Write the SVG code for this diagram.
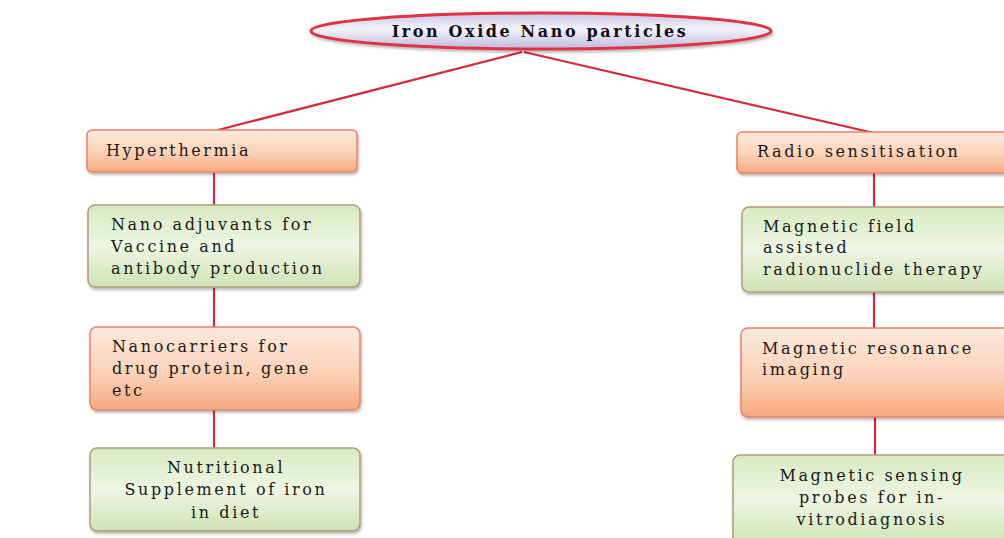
<svg xmlns="http://www.w3.org/2000/svg" width="1004" height="538" viewBox="0 0 1004 538">
<defs>
<linearGradient id="gOr" x1="0" y1="0" x2="0" y2="1">
<stop offset="0" stop-color="#fde9dd"/>
<stop offset="0.55" stop-color="#fbd2b8"/>
<stop offset="1" stop-color="#f7a87e"/>
</linearGradient>
<linearGradient id="gGr" x1="0" y1="0" x2="0" y2="1">
<stop offset="0" stop-color="#d7ebc0"/>
<stop offset="0.5" stop-color="#eef6e4"/>
<stop offset="1" stop-color="#cfe3b4"/>
</linearGradient>
<linearGradient id="gEl" x1="0" y1="0" x2="0" y2="1">
<stop offset="0" stop-color="#c9c6e6"/>
<stop offset="0.45" stop-color="#f4f3fb"/>
<stop offset="1" stop-color="#bdb9dd"/>
</linearGradient>
<filter id="sh" x="-10%" y="-10%" width="120%" height="130%">
<feDropShadow dx="1" dy="2" stdDeviation="1.5" flood-color="#000" flood-opacity="0.3"/>
</filter>
</defs>
<style>
.or{fill:url(#gOr);stroke:#e8826a;stroke-width:1.5;filter:url(#sh)}
.gr{fill:url(#gGr);stroke:#b39a7e;stroke-width:1.5;filter:url(#sh)}
.t{font-family:"DejaVu Serif",serif;font-size:16px;fill:#1a1a1a;letter-spacing:2.6px}
.c{text-anchor:middle}
.ln{stroke:#d42a3e;stroke-width:2.2;fill:none}
</style>
<rect width="1004" height="538" fill="#ffffff"/>
<g id="connectors">
<line class="ln" x1="522" y1="52" x2="214" y2="131"/>
<line class="ln" x1="524" y1="52" x2="874" y2="133"/>
<line class="ln" x1="214" y1="173" x2="214" y2="206"/>
<line class="ln" x1="214" y1="288" x2="214" y2="327"/>
<line class="ln" x1="214" y1="410" x2="214" y2="448"/>
<line class="ln" x1="874" y1="173" x2="874" y2="207"/>
<line class="ln" x1="874" y1="292" x2="874" y2="328"/>
<line class="ln" x1="875" y1="417" x2="875" y2="455"/>
</g>
<g id="root">
<ellipse cx="541" cy="31" rx="230" ry="18" fill="url(#gEl)" stroke="#e0323f" stroke-width="3" filter="url(#sh)"/>
<text x="540" y="37" class="c" style="font-family:'DejaVu Serif',serif;font-size:16px;font-weight:bold;fill:#111;letter-spacing:2.6px">Iron Oxide Nano particles</text>
</g>
<g id="hyperthermia">
<rect class="or" x="87" y="130" width="270" height="42" rx="5"/>
<text class="t" x="106" y="156">Hyperthermia</text>
</g>
<g id="nano-adjuvants">
<rect class="gr" x="88" y="205" width="272" height="82" rx="7"/>
<text class="t" x="111" y="230">Nano adjuvants for</text>
<text class="t" x="111" y="252">Vaccine and</text>
<text class="t" x="111" y="274">antibody production</text>
</g>
<g id="nanocarriers">
<rect class="or" x="90" y="327" width="270" height="83" rx="7"/>
<text class="t" x="112" y="352">Nanocarriers for</text>
<text class="t" x="112" y="374">drug protein, gene</text>
<text class="t" x="112" y="396">etc</text>
</g>
<g id="nutritional">
<rect class="gr" x="90" y="448" width="270" height="83" rx="7"/>
<text class="t c" x="226" y="473">Nutritional</text>
<text class="t c" x="226" y="495">Supplement of iron</text>
<text class="t c" x="226" y="518">in diet</text>
</g>
<g id="radio">
<rect class="or" x="737" y="132" width="280" height="41" rx="5"/>
<text class="t" x="757" y="157">Radio sensitisation</text>
</g>
<g id="magnetic-field">
<rect class="gr" x="742" y="207" width="275" height="85" rx="7"/>
<text class="t" x="763" y="232">Magnetic field</text>
<text class="t" x="763" y="253">assisted</text>
<text class="t" x="763" y="275">radionuclide therapy</text>
</g>
<g id="mri">
<rect class="or" x="741" y="328" width="276" height="89" rx="7"/>
<text class="t" x="762" y="354">Magnetic resonance</text>
<text class="t" x="762" y="375">imaging</text>
</g>
<g id="sensing">
<rect class="gr" x="733" y="455" width="284" height="90" rx="7"/>
<text class="t c" x="872" y="481">Magnetic sensing</text>
<text class="t c" x="872" y="503">probes for in-</text>
<text class="t c" x="872" y="525">vitrodiagnosis</text>
</g>
</svg>
